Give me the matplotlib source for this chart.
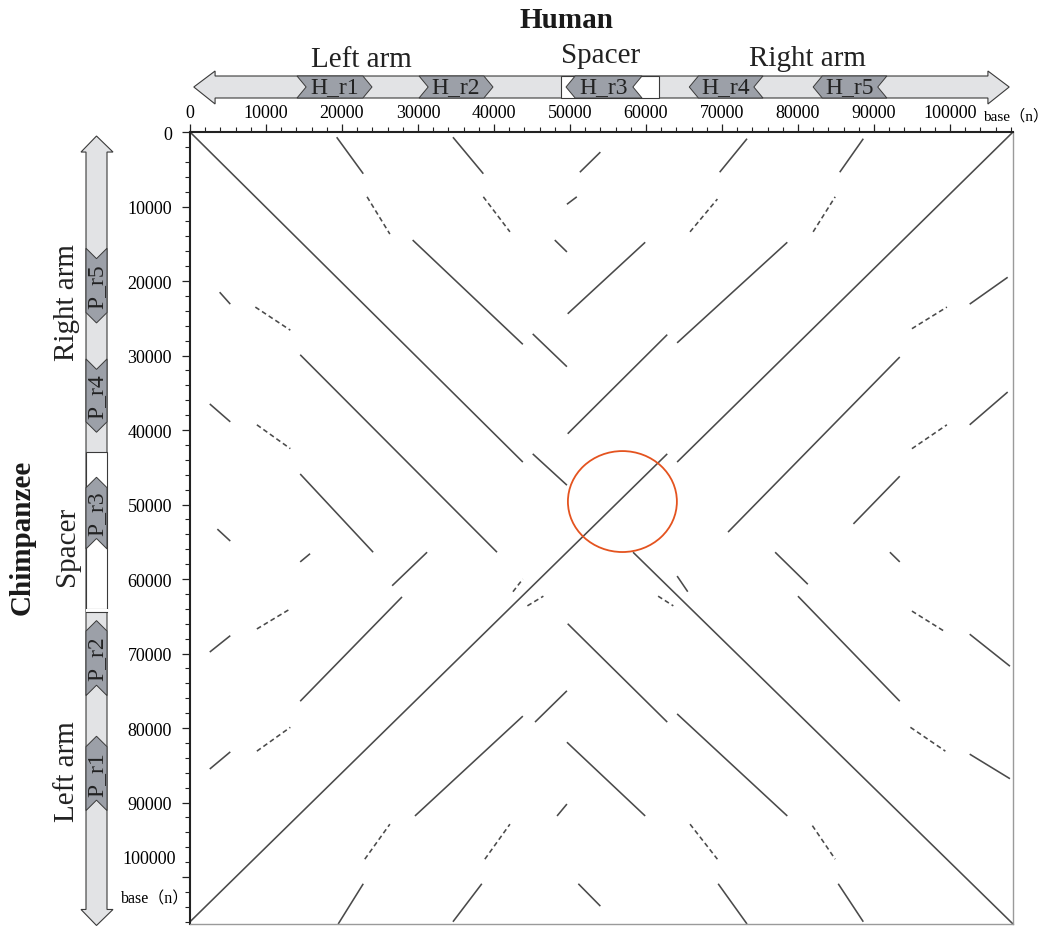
import matplotlib
matplotlib.use("Agg")
import matplotlib.pyplot as plt
from matplotlib.patches import Polygon, Rectangle, Ellipse

plt.rcParams["font.family"] = ["Liberation Serif", "Noto Sans CJK SC", "DejaVu Serif"]

# sequence lengths (bases): human on x, chimpanzee on y
HUMAN_LEN = 108300
CHIMP_LEN = 106300

# human map (top): arrow ends, spacer, repeats (start, end, direction)
human_arrow = (500, 107800)
human_spacer = (48780, 61700)
human_repeats = ["H_r1", "H_r2", "H_r3", "H_r4", "H_r5"]
human_rep_start = [14080, 30140, 49480, 65700, 82000]
human_rep_end = [23950, 39870, 59480, 75400, 91700]
human_rep_dir = ["right", "right", "left", "left", "left"]

# chimpanzee map (left): arrow ends, spacer, repeats
chimp_arrow = (540, 106500)
chimp_spacer = (42980, 64010)
chimp_arm2_start = 64370
chimp_repeats = ["P_r5", "P_r4", "P_r3", "P_r2", "P_r1"]
chimp_rep_start = [15600, 30460, 46340, 65580, 81100]
chimp_rep_end = [25630, 40300, 55960, 75650, 91080]
chimp_rep_dir = ["down", "down", "up", "up", "up"]

# dot plot matches: (human0, chimp0, human1, chimp1)
desc_segments = [
    (0, 0, 43800, 44300), (58300, 56400, 108300, 106300),
    (29300, 14500, 43800, 28500), (45100, 27100, 49600, 31500),
    (14500, 29900, 40400, 56400), (14500, 45900, 24100, 56400),
    (45100, 43200, 49600, 47400), (49700, 66000, 62800, 79200),
    (64100, 78100, 78600, 91800), (49600, 81900, 59900, 91800),
    (77000, 56400, 81300, 60700), (80000, 62300, 93400, 76400),
    (19300, 700, 22800, 5600), (34600, 700, 38600, 5600),
    (3900, 21500, 5300, 23100), (2600, 36500, 5300, 38900),
    (48000, 14500, 49600, 16100), (3600, 53300, 5300, 54900),
    (64100, 59600, 65500, 61700), (92100, 56400, 93400, 57700),
    (102600, 67400, 107900, 71700), (102600, 83500, 107900, 86800),
    (69500, 100900, 73300, 106300), (85300, 100900, 88600, 106000),
    (51100, 100900, 54000, 103900),
]
asc_segments = [
    (0, 106000, 62800, 43200), (64100, 44300, 108300, 0),
    (49700, 24400, 59900, 14800), (49700, 40500, 62800, 27200),
    (64100, 28300, 78600, 14800), (70800, 53700, 93400, 30200),
    (87300, 52600, 93400, 46200), (102600, 39300, 107600, 34900),
    (102600, 23100, 107600, 19500), (69700, 5400, 73300, 900),
    (85500, 5400, 88600, 900), (51300, 5400, 54000, 2700),
    (49600, 9700, 50900, 8700), (14500, 76400, 27900, 62400),
    (26600, 60900, 31200, 56400), (29600, 91800, 43800, 78400),
    (45400, 79200, 49600, 75000), (19500, 106300, 22800, 100900),
    (34600, 106000, 38400, 100900), (2600, 69800, 5300, 67600),
    (2600, 85500, 5300, 83200), (48300, 91800, 49600, 90200),
    (14500, 57700, 15800, 56600),
]
broken_segments = [
    (23300, 8700, 26300, 13700), (38600, 8700, 42100, 13400),
    (8600, 23500, 13200, 26600), (8800, 39300, 13200, 42500),
    (61600, 62300, 63600, 63600), (95000, 64300, 99400, 67100),
    (94800, 79900, 99400, 83100), (65800, 92900, 69400, 97600),
    (81900, 93100, 84900, 97600), (95000, 42500, 99600, 39300),
    (95000, 26400, 99600, 23500), (82000, 13400, 84900, 8700),
    (65800, 13400, 69400, 9000), (23000, 97600, 26300, 92900),
    (38800, 97600, 42100, 92900), (8800, 66700, 13200, 64000),
    (8800, 83100, 13200, 79900), (42500, 61700, 43800, 60000),
    (44400, 63600, 46500, 62300),
]

# highlighted region (center, width, height in bases)
circle_center = (56900, 49600)
circle_size = (14340, 13550)

x_ticks = list(range(0, 100001, 10000))
y_ticks = list(range(0, 100001, 10000))

W, H = 1051, 928
LIGHT = "#e2e3e5"
REP = "#9ca0a8"
EDGE = "#3a3a3a"
LINE = "#4a4a4a"
TXT = "#222222"


def fx(px):
    return px / W


def fy(py):
    return 1 - py / H


fig = plt.figure(figsize=(W / 100, H / 100), dpi=100)

# ---- main dot plot
ax = fig.add_axes([fx(190), fy(925), 823 / W, 792 / H])
ax.set_xlim(0, HUMAN_LEN)
ax.set_ylim(CHIMP_LEN, 0)

for x0, y0, x1, y1 in desc_segments + asc_segments:
    ax.plot([x0, x1], [y0, y1], color=LINE, lw=1.15, solid_capstyle="butt")
for x0, y0, x1, y1 in broken_segments:
    ax.plot([x0, x1], [y0, y1], color=LINE, lw=1.15, ls=(0, (3, 2)))

ax.add_patch(Ellipse(circle_center, circle_size[0], circle_size[1],
                     fc="none", ec="#e4531f", lw=1.3, zorder=5))

ax.xaxis.tick_top()
ax.set_xticks(x_ticks)
ax.set_xticklabels([str(v) for v in x_ticks])
ax.set_xticks(range(0, 108001, 2000), minor=True)
ax.set_yticks(y_ticks)
ax.set_yticklabels([str(v) if v < 100000 else "" for v in y_ticks])
ax.set_yticks(range(0, 106001, 2000), minor=True)
ax.tick_params(which="major", direction="out", length=6, width=0.9,
               labelsize=13, color=TXT)
ax.tick_params(which="minor", direction="out", length=3.5, width=0.8, color=TXT)
ax.tick_params(axis="x", pad=2)
ax.tick_params(axis="y", pad=7)
for side in ["top", "left"]:
    ax.spines[side].set_linewidth(1.5)
    ax.spines[side].set_color(TXT)
for side in ["right", "bottom"]:
    ax.spines[side].set_linewidth(1.0)
    ax.spines[side].set_color("#9a9a9a")

fig.text(fx(176), fy(860), "100000", ha="right", va="center", fontsize=13)
fig.text(fx(983), fy(121), "base（n）", ha="left", va="baseline", fontsize=11)
fig.text(fx(121), fy(903), "base（n）", ha="left", va="baseline", fontsize=11.5)

# ---- human map (top)
axt = fig.add_axes([fx(190), fy(112), 823 / W, 47 / H])
axt.set_xlim(0, HUMAN_LEN)
axt.set_ylim(0, 47)
axt.axis("off")
b0, b1, h0, h1, mid = 13, 35, 7, 40, 24
hl = 2800
l, r = human_arrow
axt.add_patch(Polygon([(l, mid), (l + hl, h1), (l + hl, b1), (r - hl, b1), (r - hl, h1),
                       (r, mid), (r - hl, h0), (r - hl, b0), (l + hl, b0), (l + hl, h0)],
                      closed=True, fc=LIGHT, ec=EDGE, lw=0.8, clip_on=False))
axt.add_patch(Rectangle((human_spacer[0], b0), human_spacer[1] - human_spacer[0], b1 - b0,
                        fc="white", ec=EDGE, lw=0.8, clip_on=False))
t = 1200
for name, s, e, d in zip(human_repeats, human_rep_start, human_rep_end, human_rep_dir):
    if d == "right":
        pts = [(s, b1), (e - t, b1), (e, mid), (e - t, b0), (s, b0), (s + t, mid)]
    else:
        pts = [(s, mid), (s + t, b1), (e, b1), (e - t, mid), (e, b0), (s + t, b0)]
    axt.add_patch(Polygon(pts, closed=True, fc=REP, ec=EDGE, lw=0.7, clip_on=False))
    axt.text((s + e) / 2, b0 + 6, name, ha="center", va="baseline", fontsize=17,
             color=TXT)

# ---- chimpanzee map (left)
axl = fig.add_axes([fx(70), fy(925), 55 / W, 792 / H])
axl.set_xlim(0, 55)
axl.set_ylim(CHIMP_LEN, 0)
axl.axis("off")
c0, c1, k0, k1, cx = 16, 37, 11, 43, 26.5
vl = 2150
top, bot = chimp_arrow
axl.add_patch(Polygon([(cx, top), (k1, top + vl), (c1, top + vl), (c1, bot - vl), (k1, bot - vl),
                       (cx, bot), (k0, bot - vl), (c0, bot - vl), (c0, top + vl), (k0, top + vl)],
                      closed=True, fc=LIGHT, ec=EDGE, lw=0.8, clip_on=False))
axl.add_patch(Rectangle((c0, chimp_spacer[0]), c1 - c0, chimp_spacer[1] - chimp_spacer[0],
                        fc="white", ec=EDGE, lw=0.8))
axl.add_patch(Rectangle((c0 - 0.5, chimp_spacer[1] + 30), c1 - c0 + 1,
                        chimp_arm2_start - chimp_spacer[1] - 30, fc="white", ec="none"))
axl.plot([c0, c1], [chimp_arm2_start, chimp_arm2_start], color=EDGE, lw=0.8)
tv = 1400
for name, s, e, d in zip(chimp_repeats, chimp_rep_start, chimp_rep_end, chimp_rep_dir):
    if d == "down":
        pts = [(c0, s), (cx, s + tv), (c1, s), (c1, e - tv), (cx, e), (c0, e - tv)]
    else:
        pts = [(cx, s), (c1, s + tv), (c1, e), (cx, e - tv), (c0, e), (c0, s + tv)]
    axl.add_patch(Polygon(pts, closed=True, fc=REP, ec=EDGE, lw=0.7))
    axl.text(c1 - 4.5, (s + e) / 2, name, ha="center", va="baseline", rotation=90,
             rotation_mode="anchor", fontsize=17, color=TXT)

# ---- titles and region names
fig.text(fx(567), fy(28), "Human", ha="center", va="baseline", fontsize=21,
         fontweight="bold", color="#1a1a1a")
fig.text(fx(361), fy(67), "Left arm", ha="center", va="baseline", fontsize=21, color=TXT)
fig.text(fx(601), fy(63), "Spacer", ha="center", va="baseline", fontsize=21, color=TXT)
fig.text(fx(807), fy(66), "Right arm", ha="center", va="baseline", fontsize=21, color=TXT)

fig.text(fx(22), fy(537), "Chimpanzee", ha="center", va="center", rotation=90, fontsize=21,
         fontweight="bold", color="#1a1a1a")
fig.text(fx(67), fy(303), "Right arm", ha="center", va="center", rotation=90, fontsize=21,
         color=TXT)
fig.text(fx(67), fy(546), "Spacer", ha="center", va="center", rotation=90, fontsize=21,
         color=TXT)
fig.text(fx(67), fy(772), "Left arm", ha="center", va="center", rotation=90, fontsize=21,
         color=TXT)

fig.savefig("out.png", dpi=100)
